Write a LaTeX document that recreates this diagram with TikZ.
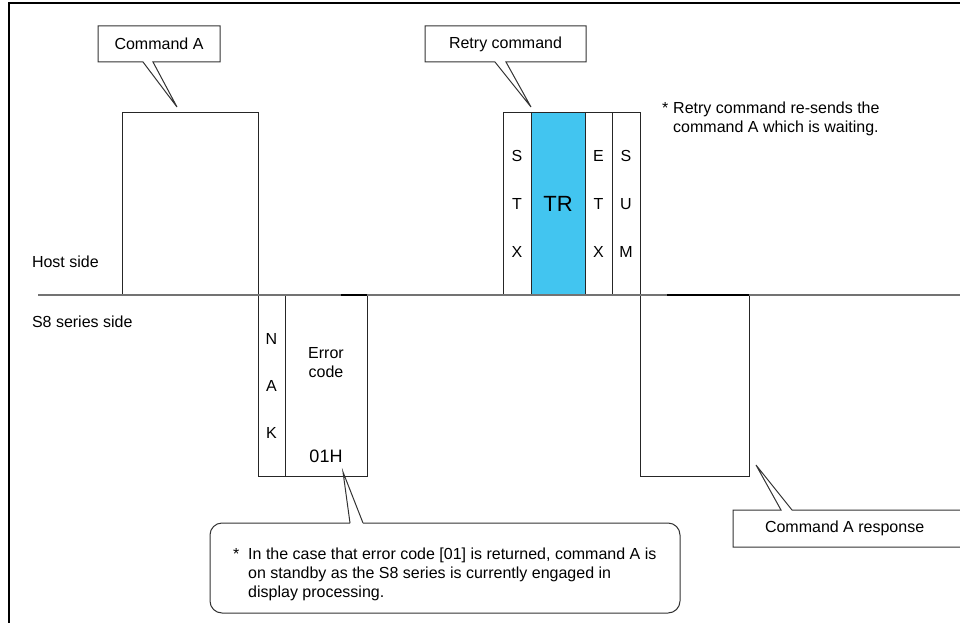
\documentclass[tikz,border=0pt]{standalone}
\usepackage{fontspec}
\setmainfont{Liberation Sans}
\usetikzlibrary{positioning}
\definecolor{trblue}{RGB}{66,197,240}

\begin{document}
\begin{tikzpicture}[x=1pt, y=-1pt,
  every node/.style = {font=\fontsize{16}{19}\selectfont,
    inner sep=0pt, outer sep=0pt},
  upfield/.style = {draw=black!85, line width=1pt, align=center,
    anchor=south west, minimum height=182pt},
  downfield/.style = {draw=black!85, line width=1pt, align=center,
    anchor=north west, minimum height=181pt},
  balloon/.style = {draw=black!80, line width=1pt},
  bus/.style = {draw=black!55, line width=1.4pt}]
  \useasboundingbox (0,0) rectangle (960,623);

  % page frame (only left and top edges show)
  \draw[line width=2pt] (9,623) -- (9,3) -- (960,3);

  % host side frames
  \node[upfield, minimum width=136pt] (cmdA) at (122,295) {};
  \node[upfield, minimum width=28pt] (stx) at (503,295) {S\\[29pt]T\\[29pt]X};
  \node[upfield, minimum width=54pt, fill=trblue, right=0pt of stx] (tr)
    {\fontsize{22}{26}\selectfont TR};
  \node[upfield, minimum width=27pt, right=0pt of tr] (etx) {E\\[29pt]T\\[29pt]X};
  \node[upfield, minimum width=28pt, right=0pt of etx] (sum) {S\\[29pt]U\\[29pt]M};

  % S8 side frames
  \node[downfield, minimum width=27pt] (nak) at (258,295) {N\\[28pt]A\\[28pt]K};
  \node[downfield, minimum width=82pt, right=0pt of nak] (err) {};
  \node[align=center, below=52pt of err.north] (errlbl) {Error\\code};
  \node[above=13pt of err.south, font=\fontsize{18}{21}\selectfont] (errval) {01H};
  \node[downfield, minimum width=109pt] (resp) at (640,295) {};

  % time line between both sides
  \coordinate (busstart) at (38,295);
  \coordinate (busend) at (960,295);
  \draw[bus] (busstart) -- (busend);
  \draw[line width=2pt] ([xshift=-26pt]err.north east) -- (err.north east);
  \draw[line width=2pt] ([xshift=-82pt]resp.north east) -- (resp.north east);

  \node[anchor=west] (host) at (32,262) {Host side};
  \node[anchor=west] (slave) at (32,322) {S8 series side};

  % callouts
  \node[minimum width=122pt, minimum height=36pt] (cmdAbox) at (159,44) {Command A};
  \coordinate (cmdAtip) at (177,107);
  \draw[balloon] (cmdAbox.south west) -- ([xshift=45pt]cmdAbox.south west)
    -- (cmdAtip) -- ([xshift=55pt]cmdAbox.south west) -- (cmdAbox.south east)
    -- (cmdAbox.north east) -- (cmdAbox.north west) -- cycle;

  \node[minimum width=161pt, minimum height=36pt] (retrybox) at (505.5,44) {Retry command};
  \coordinate (retrytip) at (531,107);
  \draw[balloon] (retrybox.south west) -- ([xshift=70pt]retrybox.south west)
    -- (retrytip) -- ([xshift=81pt]retrybox.south west) -- (retrybox.south east)
    -- (retrybox.north east) -- (retrybox.north west) -- cycle;

  \node[minimum width=228pt, minimum height=37pt, anchor=north west] (respbox) at (733,510) {};
  \node[right=32pt of respbox.west] (resplbl) {Command A response};
  \coordinate (resptip) at (756,465);
  \draw[balloon] (respbox.north east) -- ([xshift=59pt]respbox.north west)
    -- (resptip) -- ([xshift=48pt]respbox.north west) -- (respbox.north west)
    -- (respbox.south west) -- (respbox.south east);

  \node[minimum width=470pt, minimum height=90pt] (errbox) at (445,568) {};
  \coordinate (errtip) at (343,472);
  \draw[balloon, rounded corners=12pt] ([xshift=153pt]errbox.north west)
    -- (errbox.north east) -- (errbox.south east) -- (errbox.south west)
    -- (errbox.north west) -- ([xshift=140pt]errbox.north west);
  \draw[balloon] ([xshift=140pt]errbox.north west) -- (errtip)
    -- ([xshift=153pt]errbox.north west);
  \node[anchor=north west] (errnote) at (233,546) {%
    \begin{tabular}{@{}l@{\hspace{9pt}}l@{}}
      * & In the case that error code [01] is returned, command A is\\
        & on standby as the S8 series is currently engaged in\\
        & display processing.
    \end{tabular}};

  \node[anchor=north west] (retrynote) at (662,100) {%
    \begin{tabular}{@{}l@{\hspace{5pt}}l@{}}
      * & Retry command re-sends the\\
        & command A which is waiting.
    \end{tabular}};
\end{tikzpicture}
\end{document}
